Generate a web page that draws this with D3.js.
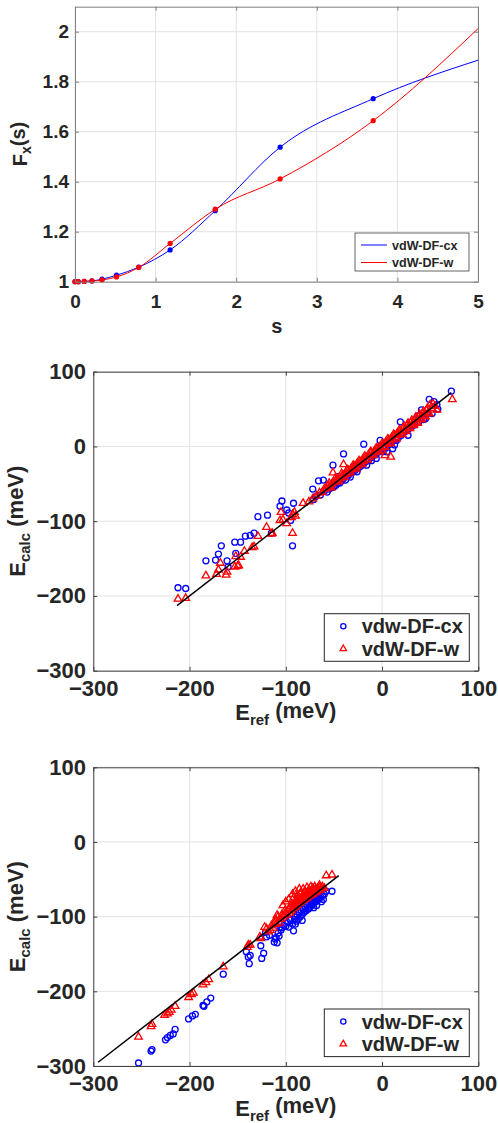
<!DOCTYPE html>
<html><head><meta charset="utf-8">
<script src="https://cdn.jsdelivr.net/npm/d3@7"></script>
<style>
body{margin:0;background:#fff}
svg{display:block}
text{font-family:"Liberation Sans",Arial,Helvetica,sans-serif;font-weight:bold;fill:#262626}
</style>
</head><body>
<svg id="c" width="498" height="1123"></svg>
<script>
// ---------- Panel 1 data: enhancement factor F_x(s) ----------
const sNodes = [0, 0.04, 0.115, 0.21, 0.335, 0.515, 0.79, 1.18, 1.74, 2.545, 3.70];
const fxCxNodes = [1.0, 1.0, 1.001, 1.003, 1.01, 1.026, 1.058, 1.127, 1.284, 1.538, 1.732];
const fxWNodes  = [1.0, 1.0, 1.001, 1.003, 1.007, 1.019, 1.057, 1.153, 1.29, 1.411, 1.644];
const sEnd = 5;
const fxCxEnd = 1.886;
const fxWEnd = 2.012;
const sTicks = [0, 1, 2, 3, 4, 5];
const fxTicks = [1, 1.2, 1.4, 1.6, 1.8, 2];
const legendTop = ["vdW-DF-cx", "vdW-DF-w"];

// ---------- Panels 2 & 3: [E_ref, E_calc] in meV ----------
const eTicks = [-300, -200, -100, 0, 100];
const legendScatter = ["vdw-DF-cx", "vdW-DF-w"];
const midLine = [-213, 72];
const botLine = [-295, -45];

const midCx = [
[-212,-189],[-204,-190],[-183,-153],[-173,-152],[-170,-144],[-167,-133],[-161,-153],[-160,-161],[-153,-128],[-147,-128],[-152,-143],[-142,-120],[-137,-119],[-133,-116],[-129,-94],[-119,-92],[-115,-116],[-106,-80],[-104,-73],[-92,-76],[-99,-85],[-95,-99],[-93,-133],[-97,-89],
[-72,-57],[-71,-71],[-69,-67],[-66,-46],[-64,-65],[-61,-45],[-60,-60],[-57,-61],[-55,-57],[-51,-25],[-52,-55],[-50,-54],[-48,-52],[-46,-49],[-45,-40],[-44,-49],[-42,-46],[-40,-10],[-40,-43],[-38,-45],[-37,-40],[-35,-39],[-33,-41],[-32,-35],[-30,-34],[-29,-27],[-28,-32],[-26,-34],[-25,-29],[-23,-27],[-21,-25],[-19,3],[-19,-23],[-17,-20],[-16,-25],[-14,-18],[-12,-15],[-11,-19],[-9,-12],[-7,-11],[-6,-16],[-5,-8],[-3,-7],[-2,8],[-1,-4],[1,-7],[2,-1],[4,-2],[5,-7],[6,2],[8,3],[10,6],[11,-3],[13,2],[14,10],[15,8],[17,12],[19,33],[20,15],[22,18],[24,20],[27,15],[28,24],[31,27],[34,29],[37,41],[38,32],[41,49],[43,36],[45,37],[47,44],[49,63],[52,44],[54,60],[57,56],[58,50],[72,74]
];
const midW = [
[-212,-204],[-204,-203],[-183,-173],[-172,-171],[-170,-165],[-168,-156],[-162,-172],[-161,-168],[-153,-161],[-150,-160],[-149,-159],[-152,-147],[-147,-148],[-143,-140],[-135,-135],[-133,-134],[-129,-120],[-120,-108],[-115,-117],[-114,-116],[-106,-99],[-105,-88],[-103,-98],[-99,-103],[-93,-116],[-93,-91],[-91,-88],[-94,-95],[-90,-93],[-82,-76],[-76,-74],[-72,-70],[-68,-66],[-65,-62],[-62,-61],[-60,-57],[-58,-56],[-56,-52],[-54,-53],[-52,-50],[-51,-35],[-50,-48],[-48,-46],[-47,-43],[-46,-45],[-44,-41],[-43,-43],[-41,-38],[-40,-24],[-40,-39],[-38,-35],[-37,-37],[-35,-32],[-34,-34],[-32,-29],[-31,-31],[-29,-26],[-28,-28],[-26,-23],[-25,-26],[-23,-20],[-22,-22],[-20,-17],[-19,-20],[-17,-14],[-16,-17],[-14,-11],[-13,-14],[-11,-8],[-10,-11],[-8,-6],[-7,-8],[-5,-3],[-4,-5],[-2,0],[-1,-2],[1,3],[2,0],[3,-12],[4,6],[5,3],[7,9],[8,6],[9,-14],[10,12],[11,9],[13,15],[14,12],[16,18],[17,15],[19,21],[20,18],[22,24],[24,22],[26,28],[28,25],[30,32],[32,29],[34,36],[36,33],[38,40],[40,37],[42,44],[44,41],[46,48],[48,45],[50,56],[52,51],[55,54],[57,49],[73,63],
[-49,-43],[-45,-47],[-42,-36],[-39,-41],[-36,-31],[-33,-35],[-30,-25],[-27,-30],[-24,-19],[-21,-24],[-18,-13],[-15,-18],[-12,-7],[-9,-12],[-6,-2],[-3,-7],[0,4],[3,-1],[6,10],[9,4],[12,16],[15,10],[18,22],[21,16],[23,27],[25,20],[27,31],[29,24],[31,35],[33,28],[35,39],[37,31],[39,43],[41,36],[43,47],[45,40],[47,51],[49,44],[53,57],[-57,-53],[-53,-55],[-55,-49]
];
const botCx = [
[-253,-296],[-240,-280],[-239,-278],[-225,-265],[-223,-262],[-220,-259],[-217,-257],[-215,-251],[-201,-237],[-197,-233],[-194,-231],[-186,-219],[-185,-220],[-182,-214],[-178,-209],[-165,-177],[-141,-147],[-139,-154],[-137,-152],[-138,-163],[-126,-139],[-125,-156],[-123,-149],[-121,-121],[-120,-127],
[-117,-125],[-112,-134],[-111,-130],[-110,-128],[-109,-135],[-108,-122],[-107,-126],[-106,-114],[-105,-118],[-104,-115],[-102,-112],[-100,-113],[-98,-108],[-97,-114],[-96,-103],[-95,-105],[-93,-110],[-92,-119],[-91,-104],[-90,-100],[-90,-110],[-89,-106],[-88,-98],[-87,-94],[-87,-103],[-86,-95],[-85,-100],[-84,-92],[-83,-97],[-83,-105],[-82,-90],[-81,-94],[-80,-88],[-79,-92],[-78,-85],[-77,-90],[-76,-83],[-76,-89],[-75,-87],[-74,-81],[-73,-85],[-73,-80],[-72,-79],[-71,-82],[-71,-88],[-70,-77],[-69,-80],[-68,-76],[-68,-85],[-67,-78],[-66,-74],[-65,-76],[-64,-73],[-63,-80],[-62,-72],[-61,-77],[-60,-70],[-58,-66],[-52,-66]
];
const botW = [
[-253,-261],[-240,-247],[-239,-244],[-226,-232],[-223,-230],[-221,-228],[-219,-225],[-215,-220],[-201,-208],[-198,-204],[-196,-202],[-186,-191],[-183,-188],[-180,-184],[-165,-167],[-140,-141],[-139,-138],[-137,-138],[-127,-127],[-126,-129],[-122,-114],[-120,-116],[-118,-120],[-116,-118],[-115,-112],[-113,-115],[-112,-109],[-111,-104],[-110,-110],[-109,-98],[-108,-100],[-107,-108],[-106,-103],[-105,-103],[-104,-97],[-103,-85],[-102,-100],[-101,-92],[-100,-94],[-100,-80],[-99,-98],[-97,-90],[-97,-77],[-96,-95],[-95,-86],[-94,-92],[-93,-84],[-93,-70],[-92,-89],[-92,-75],[-91,-82],[-90,-87],[-90,-66],[-89,-80],[-88,-85],[-88,-72],[-87,-78],[-86,-82],[-86,-63],[-85,-76],[-85,-69],[-84,-80],[-84,-68],[-83,-74],[-82,-78],[-82,-63],[-81,-72],[-80,-77],[-80,-66],[-79,-70],[-78,-75],[-78,-61],[-77,-68],[-76,-73],[-76,-64],[-75,-66],[-74,-71],[-74,-60],[-73,-65],[-72,-70],[-72,-62],[-71,-64],[-70,-68],[-70,-60],[-69,-63],[-68,-67],[-67,-62],[-66,-65],[-65,-61],[-65,-58],[-64,-64],[-63,-62],[-62,-60],[-60,-62],[-58,-45],[-52,-44]
];

const svg = d3.select("#c");
svg.append("rect").attr("width",498).attr("height",1123).attr("fill","#fff");

function frame(g, x, y, xt, yt) {
  const [x0,x1] = x.range(), [y0,y1] = y.range();
  g.append("g").selectAll("line").data(xt).join("line")
    .attr("x1",d=>x(d)).attr("x2",d=>x(d)).attr("y1",y0).attr("y2",y1)
    .attr("stroke","#e3e3e3").attr("stroke-width",1);
  g.append("g").selectAll("line").data(yt).join("line")
    .attr("y1",d=>y(d)).attr("y2",d=>y(d)).attr("x1",x0).attr("x2",x1)
    .attr("stroke","#e3e3e3").attr("stroke-width",1);
}
function axes(g, x, y, xt, yt, fs, xpad, ypad, boxColor, fmtX, fmtY) {
  const [x0,x1] = x.range(), [y0,y1] = y.range();
  const style = (sel) => {
    sel.select(".domain").attr("stroke",boxColor).attr("stroke-width",1);
    sel.selectAll(".tick line").attr("stroke",boxColor).attr("stroke-width",1);
    sel.selectAll("text").attr("fill","#262626").attr("font-size",fs+"px")
      .attr("font-family",'"Liberation Sans",Arial,sans-serif').attr("font-weight","bold");
  };
  g.append("g").attr("transform",`translate(0,${y0})`)
    .call(d3.axisBottom(x).tickValues(xt).tickFormat(fmtX).tickSizeInner(-4).tickSizeOuter(0).tickPadding(xpad)).call(style);
  g.append("g").attr("transform",`translate(0,${y1})`)
    .call(d3.axisTop(x).tickValues(xt).tickFormat("").tickSizeInner(-4).tickSizeOuter(0)).call(style);
  g.append("g").attr("transform",`translate(${x0},0)`)
    .call(d3.axisLeft(y).tickValues(yt).tickFormat(fmtY).tickSizeInner(-4).tickSizeOuter(0).tickPadding(ypad)).call(style);
  g.append("g").attr("transform",`translate(${x1},0)`)
    .call(d3.axisRight(y).tickValues(yt).tickFormat("").tickSizeInner(-4).tickSizeOuter(0)).call(style);
}

// ================= Panel 1 =================
{
  const x = d3.scaleLinear().domain([0,5]).range([75,478]);
  const y = d3.scaleLinear().domain([1,2.1]).range([281.7,6.7]);
  const g = svg.append("g");
  frame(g,x,y,sTicks,fxTicks);
  const sCurve = sNodes.concat([sEnd]);
  const cxCurve = fxCxNodes.concat([fxCxEnd]);
  const wCurve = fxWNodes.concat([fxWEnd]);
  const line = d3.line().curve(d3.curveMonotoneX);
  g.append("path").attr("d",line(sCurve.map((s,i)=>[x(s),y(cxCurve[i])])))
    .attr("fill","none").attr("stroke","#0000ff").attr("stroke-width",1);
  g.append("path").attr("d",line(sCurve.map((s,i)=>[x(s),y(wCurve[i])])))
    .attr("fill","none").attr("stroke","#ff0000").attr("stroke-width",1);
  g.append("g").selectAll("circle").data(sNodes).join("circle")
    .attr("cx",d=>x(d)).attr("cy",(d,i)=>y(fxCxNodes[i])).attr("r",2.6).attr("fill","#0000ff");
  g.append("g").selectAll("circle").data(sNodes).join("circle")
    .attr("cx",d=>x(d)).attr("cy",(d,i)=>y(fxWNodes[i])).attr("r",2.6).attr("fill","#ff0000");
  axes(g,x,y,sTicks,fxTicks,19,13,6,"#808080",d3.format("d"),d=>String(d));
  g.append("text").attr("x",276.7).attr("y",333).attr("text-anchor","middle").attr("font-size","20px").text("s");
  const yl = g.append("text").attr("transform","translate(26.7,144) rotate(-90)").attr("text-anchor","middle").attr("font-size","20px");
  yl.append("tspan").text("F");
  yl.append("tspan").attr("font-size","14px").attr("dy","0.3em").text("x");
  yl.append("tspan").attr("dy","-0.3em").text("(s)");
  const lg = g.append("g");
  lg.append("rect").attr("x",355).attr("y",233).attr("width",114).attr("height",38)
    .attr("fill","#fff").attr("stroke","#404040").attr("stroke-width",0.8);
  const cols = ["#0000ff","#ff0000"];
  legendTop.forEach((t,i)=>{
    const yy = 245 + i*17.5;
    lg.append("line").attr("x1",361).attr("x2",387).attr("y1",yy).attr("y2",yy).attr("stroke",cols[i]).attr("stroke-width",1);
    lg.append("text").attr("x",392).attr("y",yy+4.5).attr("font-size","12.6px").text(t);
  });
}

// ================= Scatter panels =================
function scatterPanel(top, bottom, cx, w, lineEnds) {
  const x = d3.scaleLinear().domain([-300,100]).range([93.3,478.3]);
  const y = d3.scaleLinear().domain([-300,100]).range([bottom,top]);
  const g = svg.append("g");
  frame(g,x,y,eTicks,eTicks);
  g.append("g").selectAll("circle").data(cx).join("circle")
    .attr("cx",d=>x(d[0])).attr("cy",d=>y(d[1])).attr("r",3)
    .attr("fill","none").attr("stroke","#0000ff").attr("stroke-width",1.3);
  const tri = d3.symbol().type(d3.symbolTriangle).size(25);
  g.append("g").selectAll("path").data(w).join("path")
    .attr("d",tri).attr("transform",d=>`translate(${x(d[0])},${y(d[1])})`)
    .attr("fill","none").attr("stroke","#ff0000").attr("stroke-width",1.3);
  g.append("line").attr("x1",x(lineEnds[0])).attr("y1",y(lineEnds[0]))
    .attr("x2",x(lineEnds[1])).attr("y2",y(lineEnds[1])).attr("stroke","#000").attr("stroke-width",1.5);
  axes(g,x,y,eTicks,eTicks,22,9.3,7.3,"#404040",d3.format("d"),d3.format("d"));
  const xl = g.append("text").attr("x",285.8).attr("y",bottom+49.5).attr("text-anchor","middle").attr("font-size","22px");
  xl.append("tspan").text("E");
  xl.append("tspan").attr("font-size","15px").attr("dy","0.35em").text("ref");
  xl.append("tspan").attr("dy","-0.35em").text(" (meV)");
  const yl = g.append("text").attr("transform",`translate(25,${(top+bottom)/2}) rotate(-90)`).attr("text-anchor","middle").attr("font-size","22px");
  yl.append("tspan").text("E");
  yl.append("tspan").attr("font-size","15px").attr("dy","0.35em").text("calc");
  yl.append("tspan").attr("dy","-0.35em").text(" (meV)");
  const ly = bottom - 57;
  const lg = g.append("g");
  lg.append("rect").attr("x",324.3).attr("y",ly).attr("width",145).attr("height",47.6)
    .attr("fill","#fff").attr("stroke","#262626").attr("stroke-width",1);
  legendScatter.forEach((t,i)=>{
    const yy = ly + 12.5 + i*22.5;
    if (i===0) lg.append("circle").attr("cx",343.3).attr("cy",yy).attr("r",2.6)
      .attr("fill","none").attr("stroke","#0000ff").attr("stroke-width",1.3);
    else lg.append("path").attr("d",d3.symbol().type(d3.symbolTriangle).size(18)).attr("transform",`translate(343.3,${yy})`)
      .attr("fill","none").attr("stroke","#ff0000").attr("stroke-width",1.3);
    lg.append("text").attr("x",361.7).attr("y",yy+7).attr("font-size","20px").text(t);
  });
}
scatterPanel(371.7, 670.7, midCx, midW, midLine);
scatterPanel(767.3, 1066, botCx, botW, botLine);
</script>
</body></html>
